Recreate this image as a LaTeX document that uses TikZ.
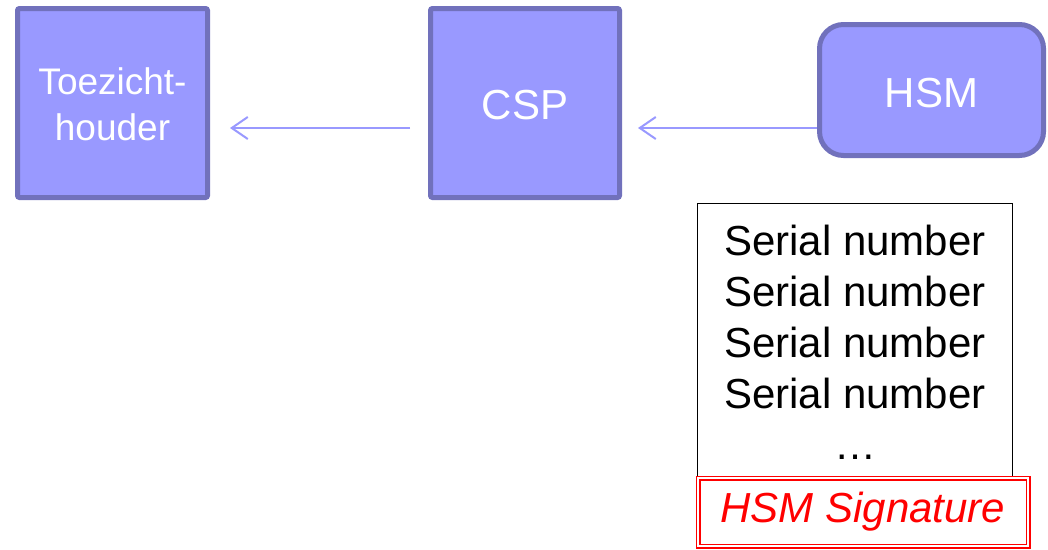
\documentclass[tikz,border=0pt]{standalone}
\usepackage{fontspec}
\setmainfont{Liberation Sans}
\usetikzlibrary{arrows.meta}
\definecolor{boxfill}{HTML}{9999FF}
\definecolor{boxline}{HTML}{7171BC}
\definecolor{flow}{HTML}{9999FF}
\tikzset{
  party/.style={draw=boxline, fill=boxfill, line width=5pt, inner sep=0pt},
  partytext/.style={text=white, font=\fontsize{42}{46}\selectfont,
    align=center, inner sep=0pt},
  flowarrow/.style={draw=flow, line width=2pt,
    -{Straight Barb[length=16pt,width=22pt,line width=2pt]}},
  listbox/.style={draw=black, line width=1pt, inner sep=0pt, anchor=north west},
  sigbox/.style={draw=red, fill=white, line width=1.2pt, double=white,
    double distance=2.6pt, text=red, font=\fontsize{42}{46}\selectfont\itshape,
    inner sep=0pt}
}
\begin{document}
\begin{tikzpicture}[x=1pt,y=-1pt]
\useasboundingbox (0,0) rectangle (1048,549);
% the three parties
\node[party, minimum width=190pt, minimum height=189pt, rounded corners=2pt]
  (toez) at (112.5,103) {};
\node[partytext, font=\fontsize{37}{46}\selectfont]
  (toez-name) at ([yshift=-1.5pt]toez.center) {Toezicht-\\houder};
\node[party, minimum width=189pt, minimum height=189pt, rounded corners=2pt]
  (csp) at (525,103) {};
\node[partytext] (csp-name) at ([yshift=-2pt]csp.center) {CSP};
\node[party, minimum width=224pt, minimum height=131pt, rounded corners=24pt]
  (hsm) at (931.5,90) {};
\node[partytext] (hsm-name) at ([yshift=-3pt]hsm.center) {HSM};
% message flow
\coordinate (a1s) at (410,128);
\coordinate (a1e) at (230,128);
\coordinate (a2s) at (hsm.west |- a1s);
\coordinate (a2e) at (638,128);
\draw[flowarrow] (a1s) -- (a1e);
\draw[flowarrow] (a2s) -- (a2e);
% signed list of serial numbers
\node[listbox, minimum width=315pt, minimum height=273pt] (list) at (697,203) {};
\node[font=\fontsize{42}{51}\selectfont, align=center, anchor=north]
  (serials) at (855,222)
  {Serial number\\Serial number\\Serial number\\Serial number\\\dots};
\node[sigbox, minimum width=330pt, minimum height=68pt] (sig) at (863,512)
  {HSM Signature};
\end{tikzpicture}
\end{document}
